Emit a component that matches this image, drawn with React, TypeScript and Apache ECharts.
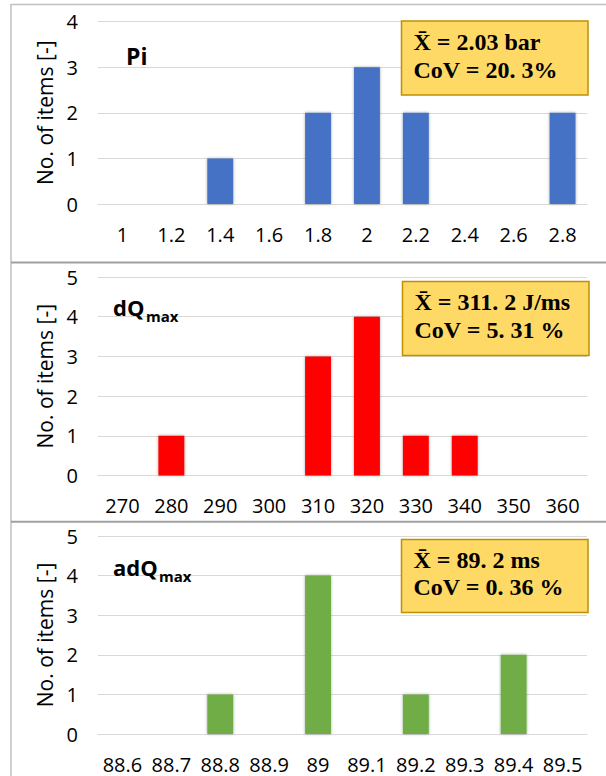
import React, { useEffect, useRef } from 'react';
import * as echarts from 'echarts';

// ---- data ----
const piCategories = ['1', '1.2', '1.4', '1.6', '1.8', '2', '2.2', '2.4', '2.6', '2.8'];
const piCounts = [0, 0, 1, 0, 2, 3, 2, 0, 0, 2];
const dqCategories = ['270', '280', '290', '300', '310', '320', '330', '340', '350', '360'];
const dqCounts = [0, 1, 0, 0, 3, 4, 1, 1, 0, 0];
const adqCategories = ['88.6', '88.7', '88.8', '88.9', '89', '89.1', '89.2', '89.3', '89.4', '89.5'];
const adqCounts = [0, 0, 1, 0, 4, 0, 1, 0, 2, 0];
const yMaxes = [4, 5, 5];
const yAxisTitle = 'No. of items [-]';
const piStats = ['X\u0304 = 2.03 bar', 'CoV = 20. 3%'];
const dqStats = ['X\u0304 = 311. 2 J/ms', 'CoV = 5. 31 %'];
const adqStats = ['X\u0304 = 89. 2 ms', 'CoV = 0. 36 %'];

const SANS = '"Open Sans", "Noto Sans", sans-serif';
const SERIF = '"Liberation Serif", "DejaVu Serif", serif';

export default function App() {
  const ref = useRef<HTMLDivElement>(null);
  useEffect(() => {
    if (!ref.current) return;
    const chart = echarts.init(ref.current, null, { renderer: 'svg' });

    const panels = [
      { cats: piCategories, vals: piCounts, color: '#4472C4', top: 21.5, height: 182.5, max: yMaxes[0] },
      { cats: dqCategories, vals: dqCounts, color: '#FF0000', top: 277, height: 198.5, max: yMaxes[1] },
      { cats: adqCategories, vals: adqCounts, color: '#70AD47', top: 536, height: 198, max: yMaxes[2] },
    ];

    const grid = panels.map((p) => ({ left: 98, width: 489, top: p.top, height: p.height }));
    const xAxis = panels.map((p, i) => ({
      type: 'category',
      gridIndex: i,
      data: p.cats,
      axisLine: { show: true, lineStyle: { color: '#D9D9D9', width: 1 } },
      axisTick: { show: false },
      axisLabel: { interval: 0, margin: 20, color: '#000', fontSize: 20, fontFamily: SANS },
    }));
    const yAxis = panels.map((p, i) => ({
      type: 'value',
      gridIndex: i,
      min: 0,
      max: p.max,
      interval: 1,
      name: yAxisTitle,
      nameLocation: 'middle',
      nameGap: 39,
      nameTextStyle: { color: '#000', fontSize: 21, fontFamily: SANS },
      axisLine: { show: false },
      axisTick: { show: false },
      splitLine: { lineStyle: { color: '#D9D9D9', width: 1 } },
      axisLabel: { margin: 20, color: '#000', fontSize: 20, fontFamily: SANS },
    }));
    const series = panels.map((p, i) => ({
      type: 'bar',
      xAxisIndex: i,
      yAxisIndex: i,
      data: p.vals,
      barWidth: '53%',
      itemStyle: { color: p.color, shadowBlur: 3, shadowColor: 'rgba(0,0,0,0.35)' },
    }));

    const boxes = [
      { x: 401.5, y: 21, h: 74, lines: piStats, b1: 50, b2: 77.3 },
      { x: 402.5, y: 281.5, h: 74, lines: dqStats, b1: 310, b2: 338 },
      { x: 401.5, y: 539.5, h: 73, lines: adqStats, b1: 568, b2: 595 },
    ];
    const graphic: any[] = [];
    // panel frames
    graphic.push({ type: 'line', shape: { x1: 11, y1: 4.5, x2: 606, y2: 4.5 }, style: { stroke: '#C0C0C0', lineWidth: 1.5 }, z: 50 });
    graphic.push({ type: 'line', shape: { x1: 11, y1: 4, x2: 11, y2: 776 }, style: { stroke: '#C0C0C0', lineWidth: 1.5 }, z: 50 });
    graphic.push({ type: 'line', shape: { x1: 11, y1: 262.5, x2: 606, y2: 262.5 }, style: { stroke: '#A0A0A0', lineWidth: 2 }, z: 50 });
    graphic.push({ type: 'line', shape: { x1: 11, y1: 521.7, x2: 606, y2: 521.7 }, style: { stroke: '#A0A0A0', lineWidth: 2 }, z: 50 });
    // stat boxes
    boxes.forEach((b) => {
      graphic.push({
        type: 'rect',
        shape: { x: b.x, y: b.y, width: 186.5, height: b.h },
        style: { fill: '#FFD966', stroke: '#BF9000', lineWidth: 1.5 },
        z: 100,
      });
      graphic.push({
        type: 'text', x: b.x + 12, y: b.b1 - 7.8, z: 101,
        style: { text: b.lines[0], font: `bold 24px ${SERIF}`, fill: '#000', textAlign: 'left', textVerticalAlign: 'middle' },
      });
      graphic.push({
        type: 'text', x: b.x + 12, y: b.b2 - 7.8, z: 101,
        style: { text: b.lines[1], font: `bold 24px ${SERIF}`, fill: '#000', textAlign: 'left', textVerticalAlign: 'middle' },
      });
    });
    // panel titles
    graphic.push({ type: 'text', x: 126, y: 56, z: 101, style: { text: 'Pi', font: `bold 23px ${SANS}`, fill: '#000', textVerticalAlign: 'middle' } });
    graphic.push({ type: 'text', x: 113, y: 307, z: 101, style: { text: 'dQ', font: `bold 22px ${SANS}`, fill: '#000', textVerticalAlign: 'middle' } });
    graphic.push({ type: 'text', x: 146, y: 316, z: 101, style: { text: 'max', font: `bold 15px ${SANS}`, fill: '#000', textVerticalAlign: 'middle' } });
    graphic.push({ type: 'text', x: 113, y: 567, z: 101, style: { text: 'adQ', font: `bold 22px ${SANS}`, fill: '#000', textVerticalAlign: 'middle' } });
    graphic.push({ type: 'text', x: 159, y: 576, z: 101, style: { text: 'max', font: `bold 15px ${SANS}`, fill: '#000', textVerticalAlign: 'middle' } });

    chart.setOption({
      animation: false,
      backgroundColor: '#fff',
      grid,
      xAxis,
      yAxis,
      series,
      graphic,
    } as any);
    return () => chart.dispose();
  }, []);
  return <div ref={ref} style={{ position: 'fixed', left: 0, top: 0, width: 606, height: 776 }} />;
}
